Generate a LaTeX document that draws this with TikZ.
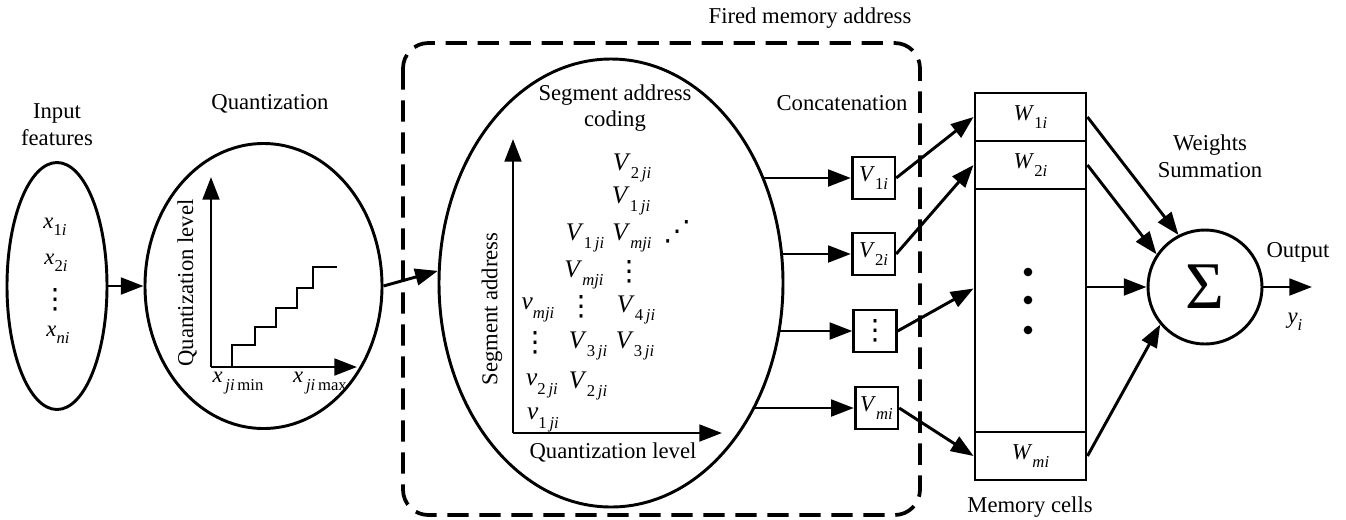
\documentclass[tikz,border=0pt]{standalone}
\usepackage{fontspec}
\setmainfont{Liberation Serif}
\newfontfamily\dotsfont{DejaVu Sans}
\usetikzlibrary{arrows.meta,shapes.geometric}

% lowered, smaller subscript
\newcommand\sbs[1]{\raisebox{-0.32em}{\fontsize{12.5}{12.5}\selectfont #1}}
% vertical and diagonal dots
\newcommand\vd{{\dotsfont\fontsize{21}{21}\selectfont ⋮}}
\newcommand\ad{{\dotsfont\fontsize{21}{21}\selectfont ⋰}}

\begin{document}
\begin{tikzpicture}[x=0.75pt,y=-0.75pt,
  every node/.style={font=\fontsize{17}{20}\selectfont, inner sep=0pt},
  grid/.style={font=\fontsize{19}{20}\selectfont},
  oval/.style={ellipse, draw, line width=2.2pt},
  arr/.style={line width=2.2pt, -{Triangle[length=17pt,width=12.5pt]}},
  ln/.style={line width=2.2pt},
  catbox/.style={draw, line width=2pt, minimum width=32pt, minimum height=31.5pt},
  cell/.style={draw, line width=2.2pt, minimum width=83.25pt, minimum height=36pt},
  bigdot/.style={circle, fill, minimum size=6.5pt},
  fired/.style={line width=2.8pt, dash pattern=on 16pt off 8pt, rounded corners=19pt}]

\useasboundingbox (0,0) rectangle (1346,519);

% input features
\node[oval, minimum width=75pt, minimum height=185.25pt] (inp) at (57,286) {};
\node[align=center] (tin) at (57,125) {Input\\features};
\node (x1) at (55,227) {\textit{x}\sbs{1\textit{i}}};
\node (x2) at (56,263) {\textit{x}\sbs{2\textit{i}}};
\node (xd) at (55,300) {\vd};
\node (xn) at (58,335) {\textit{x}\sbs{\textit{ni}}};

% quantization
\node[oval, minimum width=177.75pt, minimum height=213.75pt] (quant) at (263.5,286) {};
\node (tq) at (270,104) {Quantization};
\coordinate (qo) at (211,367);
\coordinate (qy) at (211,177);
\coordinate (qx) at (357,367);
\draw[arr] (qo) -- (qy);
\draw[arr] (qo) -- (qx);
\draw[ln] (232,367) -- (232,345) -- (255,345) -- (255,327) -- (276,327)
  -- (276,308) -- (297,308) -- (297,288) -- (313,288) -- (313,267) -- (337,267);
\node[rotate=90] (tql) at (187,283) {Quantization level};
\node (xmin) at (238,383) {\textit{x}\sbs{\,\textit{ji}\,min}};
\node (xmax) at (320,383) {\textit{x}\sbs{\,\textit{ji}\,max}};

% fired memory address frame
\draw[fired] (403,43) rectangle (920,515);
\node (tfm) at (810,18) {Fired memory address};

% segment address coding
\node[oval, minimum width=258pt, minimum height=336pt] (seg) at (611,283) {};
\node[align=center] (tseg) at (615,108) {Segment address\\coding};
\coordinate (so) at (513,433);
\coordinate (sy) at (513,139);
\coordinate (sx) at (722,433);
\draw[arr] (so) -- (sy);
\draw[arr] (so) -- (sx);
\node[rotate=90] (tsa) at (492,309) {Segment address};
\node (tsq) at (613,452) {Quantization level};

\node[grid] (c11) at (538,310) {\textit{v}\sbs{\textit{mji}}};
\node[grid] (c12) at (535,343) {\vd};
\node[grid] (c13) at (542,386) {\textit{v}\sbs{2\,\textit{ji}}};
\node[grid] (c14) at (543,420) {\textit{v}\sbs{1\,\textit{ji}}};
\node[grid] (c21) at (585,238) {\textit{V}\sbs{1\,\textit{ji}}};
\node[grid] (c22) at (584,275) {\textit{V}\sbs{\textit{mji}}};
\node[grid] (c23) at (581,307) {\vd};
\node[grid] (c24) at (588,346) {\textit{V}\sbs{3\,\textit{ji}}};
\node[grid] (c25) at (588,386) {\textit{V}\sbs{2\,\textit{ji}}};
\node[grid] (c31) at (632,168) {\textit{V}\sbs{2\,\textit{ji}}};
\node[grid] (c32) at (631,201) {\textit{V}\sbs{1\,\textit{ji}}};
\node[grid] (c33) at (632,238) {\textit{V}\sbs{\textit{mji}}};
\node[grid] (c34) at (629,272) {\vd};
\node[grid] (c35) at (636,310) {\textit{V}\sbs{4\,\textit{ji}}};
\node[grid] (c36) at (635,346) {\textit{V}\sbs{3\,\textit{ji}}};
\node[grid] (c41) at (677,232) {\ad};

% concatenation
\node (tcat) at (842,103) {Concatenation};
\node[catbox] (b1) at (873.5,178) {\textit{V}\sbs{1\textit{i}}};
\node[catbox] (b2) at (873.5,254) {\textit{V}\sbs{2\textit{i}}};
\node[catbox] (b3) at (875,331) {\vd};
\node[catbox] (bm) at (876.5,408) {\textit{V}\sbs{\textit{mi}}};

% memory cells
\node[cell] (w1) at (1030.5,117) {\textit{W}\sbs{1\textit{i}}};
\node[cell] (w2) at (1030.5,165) {\textit{W}\sbs{2\textit{i}}};
\node[cell, minimum height=182.25pt] (mid) at (1030.5,310.5) {};
\node[cell] (wm) at (1030.5,456) {\textit{W}\sbs{\textit{mi}}};
\node[bigdot] (d1) at (1028,272) {};
\node[bigdot] (d2) at (1028,300) {};
\node[bigdot] (d3) at (1028,330) {};
\node (tmc) at (1030,507) {Memory cells};

% weights summation
\node[circle, draw, line width=2.2pt, minimum size=85.5pt] (sig) at (1205,287) {\fontsize{50}{50}\selectfont Σ};
\node[align=center] (tws) at (1210,156) {Weights\\Summation};
\node (tout) at (1298,252) {Output};
\node (ty) at (1295,322) {\textit{y}\sbs{\textit{i}}};
\coordinate (out) at (1312,287);

% connectors
\draw[arr] (inp.east) -- (quant.west);
\draw[arr] (quant.east) -- (seg.176);
\draw[arr] (b1.west -| seg.35) -- (b1.west);
\draw[arr] (b2.west -| seg.9) -- (b2.west);
\draw[arr] (b3.west -| seg.344) -- (b3.west);
\draw[arr] (bm.west -| seg.319) -- (bm.west);
\draw[arr] (b1.east) -- (w1.west);
\draw[arr] (b2.east) -- (w2.west);
\draw[arr] (b3.east) -- ([yshift=16.5pt]mid.west);
\draw[arr] (bm.east) -- (wm.west);
\draw[arr] (w1.east) -- (sig.117);
\draw[arr] (w2.east) -- (sig.146);
\draw[arr] (mid.east |- sig.west) -- (sig.west);
\draw[arr] (wm.east) -- (sig.220);
\draw[arr] (sig.east) -- (out);
\end{tikzpicture}
\end{document}
